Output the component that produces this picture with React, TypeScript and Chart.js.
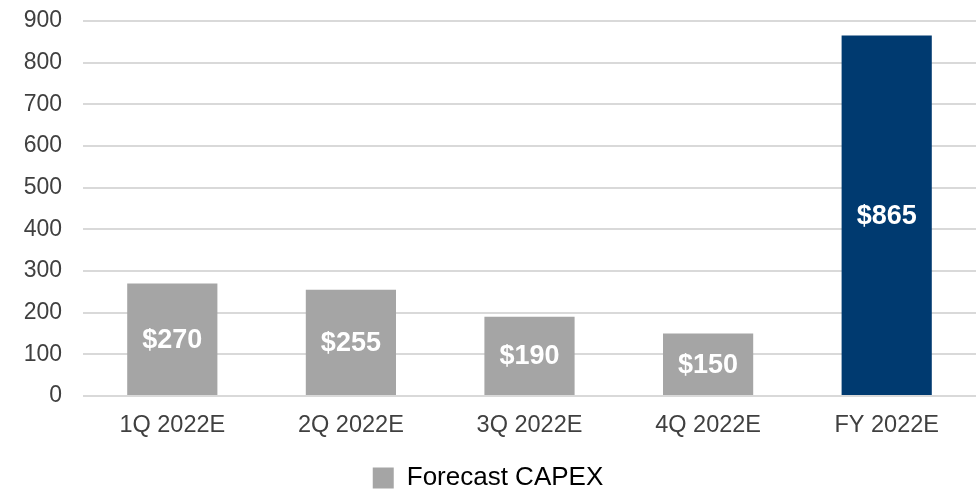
import React, { useEffect, useRef } from "react";
import { Chart, registerables } from "chart.js";

Chart.register(...registerables);

const categories = ["1Q 2022E", "2Q 2022E", "3Q 2022E", "4Q 2022E", "FY 2022E"];
const capexValues = [270, 255, 190, 150, 865];
const barLabels = ["$270", "$255", "$190", "$150", "$865"];
const barColors = ["#a5a5a5", "#a5a5a5", "#a5a5a5", "#a5a5a5", "#003a70"];
const seriesName = "Forecast CAPEX";

const FONT = "'Liberation Sans', Arial, sans-serif";

const valueLabelPlugin = {
  id: "valueLabels",
  afterDatasetsDraw(chart: any) {
    const ctx = chart.ctx;
    const meta = chart.getDatasetMeta(0);
    ctx.save();
    ctx.fillStyle = "#ffffff";
    ctx.font = `bold 27px ${FONT}`;
    ctx.textAlign = "center";
    ctx.textBaseline = "middle";
    meta.data.forEach((bar: any, i: number) => {
      const y = (bar.y + bar.base) / 2;
      ctx.fillText(barLabels[i], bar.x, y + 1);
    });
    ctx.restore();
  },
};

export default function App() {
  const ref = useRef<HTMLCanvasElement | null>(null);
  useEffect(() => {
    document.body.style.margin = "0";
    const chart = new Chart(ref.current!, {
      type: "bar",
      data: {
        labels: categories,
        datasets: [
          {
            label: seriesName,
            data: capexValues,
            backgroundColor: barColors,
            categoryPercentage: 1,
            barPercentage: 0.505,
          },
        ],
      },
      options: {
        animation: false,
        responsive: false,
        maintainAspectRatio: false,
        layout: { padding: { left: 0, right: 4, top: 21, bottom: -12 } },
        scales: {
          x: {
            grid: { display: false },
            border: { display: false },
            ticks: { color: "#404040", font: { family: FONT, size: 23.5 }, padding: 7 },
            afterFit: (scale: any) => {
              scale.height = 69;
            },
          },
          y: {
            min: 0,
            max: 900,
            ticks: { stepSize: 100, color: "#404040", font: { family: FONT, size: 23 }, padding: 21 },
            grid: { color: "#d9d9d9", lineWidth: 2, drawTicks: false },
            border: { display: false },
            afterFit: (scale: any) => {
              scale.width = 83;
              scale.paddingTop = 0;
              scale.paddingBottom = 0;
            },
          },
        },
        plugins: {
          tooltip: { enabled: false },
          legend: {
            position: "bottom",
            labels: {
              color: "#404040",
              font: { family: FONT, size: 26 },
              boxWidth: 21,
              boxHeight: 21,
              padding: 0,
              generateLabels: () => [
                {
                  text: seriesName,
                  fillStyle: "#a5a5a5",
                  strokeStyle: "#a5a5a5",
                  lineWidth: 0,
                  hidden: false,
                  datasetIndex: 0,
                },
              ],
            },
          },
        },
      },
      plugins: [valueLabelPlugin],
    });
    return () => chart.destroy();
  }, []);
  return (
    <div style={{ position: "fixed", left: 0, top: 0, width: 980, height: 489 }}>
      <canvas ref={ref} width={980} height={489} style={{ width: 980, height: 489 }} />
    </div>
  );
}
